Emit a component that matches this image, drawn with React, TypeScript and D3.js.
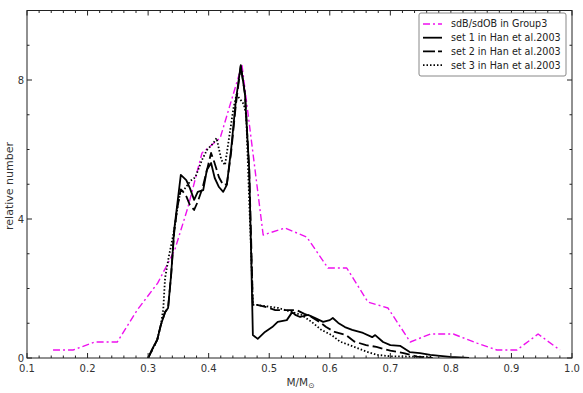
import React from "react";
import * as d3 from "d3";

const group3X = [0.143, 0.176, 0.212, 0.249, 0.282, 0.316, 0.344, 0.366, 0.389, 0.419, 0.455, 0.49, 0.526, 0.562, 0.597, 0.628, 0.663, 0.696, 0.733, 0.766, 0.804, 0.843, 0.876, 0.909, 0.944, 0.98];
const group3Y = [0.23, 0.23, 0.46, 0.46, 1.38, 2.16, 3.11, 4.35, 5.9, 6.33, 8.43, 3.54, 3.74, 3.48, 2.59, 2.59, 1.61, 1.44, 0.46, 0.69, 0.69, 0.43, 0.23, 0.23, 0.69, 0.23];

const set1X = [0.3, 0.306, 0.315, 0.321, 0.328, 0.333, 0.338, 0.343, 0.348, 0.354, 0.363, 0.369, 0.376, 0.382, 0.391, 0.397, 0.404, 0.41, 0.417, 0.424, 0.43, 0.437, 0.445, 0.453, 0.46, 0.467, 0.47, 0.473, 0.481, 0.493, 0.505, 0.514, 0.529, 0.538, 0.543, 0.551, 0.564, 0.576, 0.589, 0.6, 0.605, 0.614, 0.625, 0.637, 0.655, 0.67, 0.675, 0.688, 0.7, 0.716, 0.732, 0.749, 0.766, 0.782, 0.799, 0.83];
const set1Y = [0, 0.23, 0.52, 0.95, 1.32, 1.44, 2.39, 3.68, 4.4, 5.27, 5.12, 4.89, 4.55, 4.78, 4.83, 5.41, 5.61, 5.18, 4.92, 4.78, 4.98, 5.99, 7.42, 8.43, 7.57, 5.41, 3.11, 0.66, 0.55, 0.75, 0.89, 1.04, 1.09, 1.32, 1.24, 1.18, 1.24, 1.15, 1.04, 1.09, 1.15, 1.01, 0.89, 0.81, 0.72, 0.6, 0.66, 0.46, 0.37, 0.35, 0.17, 0.14, 0.09, 0.06, 0.03, 0];

const set2X = [0.3, 0.315, 0.321, 0.328, 0.333, 0.338, 0.343, 0.348, 0.354, 0.362, 0.369, 0.376, 0.382, 0.39, 0.397, 0.404, 0.41, 0.417, 0.424, 0.43, 0.437, 0.445, 0.453, 0.46, 0.467, 0.47, 0.473, 0.48, 0.492, 0.51, 0.53, 0.545, 0.558, 0.569, 0.583, 0.594, 0.608, 0.627, 0.641, 0.66, 0.677, 0.7, 0.722, 0.744, 0.77];
const set2Y = [0, 0.52, 0.95, 1.32, 1.44, 2.39, 3.6, 4.3, 4.85, 4.7, 4.4, 4.26, 4.5, 4.9, 5.4, 5.9, 5.6, 5.2, 4.98, 5.0, 5.9, 7.3, 8.4, 7.6, 5.4, 3.5, 1.53, 1.53, 1.48, 1.38, 1.38, 1.38, 1.27, 1.19, 1.04, 0.89, 0.75, 0.66, 0.47, 0.37, 0.32, 0.21, 0.14, 0.04, 0];

const set3X = [0.3, 0.315, 0.321, 0.325, 0.328, 0.334, 0.341, 0.345, 0.35, 0.353, 0.362, 0.37, 0.378, 0.389, 0.397, 0.408, 0.413, 0.421, 0.427, 0.441, 0.446, 0.454, 0.458, 0.462, 0.467, 0.47, 0.473, 0.479, 0.515, 0.553, 0.57, 0.586, 0.603, 0.617, 0.639, 0.661, 0.678, 0.7, 0.77];
const set3Y = [0, 0.52, 0.95, 1.4, 2.3, 2.9, 3.5, 3.9, 4.5, 4.74, 4.9, 5.1, 5.2, 5.7, 5.98, 6.19, 6.33, 5.7, 5.55, 7.19, 7.58, 7.4, 7.3, 6.99, 4.5, 3.1, 1.53, 1.53, 1.44, 1.24, 1.04, 0.81, 0.66, 0.47, 0.33, 0.18, 0.09, 0.05, 0.03];

const xMajor = [0.1, 0.2, 0.3, 0.4, 0.5, 0.6, 0.7, 0.8, 0.9, 1.0];
const yMajor = [0, 4, 8];
const legendLabels = ["sdB/sdOB in Group3", "set 1 in Han et al.2003", "set 2 in Han et al.2003", "set 3 in Han et al.2003"];

const W = 583, H = 393;
const L = 27, R = 572, T = 10.5, B = 358;
const FONT = "DejaVu Sans, sans-serif";

export default function App() {
  const x = d3.scaleLinear().domain([0.1, 1.0]).range([L, R]);
  const y = d3.scaleLinear().domain([0, 10]).range([B, T]);
  const line = d3.line<[number, number]>().x(d => x(d[0])).y(d => y(d[1]));
  const zip = (a: number[], b: number[]) => a.map((v, i) => [v, b[i]] as [number, number]);

  const series = [
    { pts: zip(group3X, group3Y), stroke: "#ee11ee", dash: "7,3,2,3", w: 1.4 },
    { pts: zip(set1X, set1Y), stroke: "#000", dash: "none", w: 1.8 },
    { pts: zip(set2X, set2Y), stroke: "#000", dash: "10,4", w: 1.8 },
    { pts: zip(set3X, set3Y), stroke: "#000", dash: "1.5,2", w: 1.8 },
  ];

  const xMinor = d3.range(0.1, 1.0001, 0.02).filter(v => !xMajor.some(m => Math.abs(m - v) < 1e-6));
  const yMinor = d3.range(0, 10.001, 1).filter(v => !yMajor.includes(v));

  const tickColor = "#222";
  return (
    <svg width={W} height={H} style={{ position: "absolute", left: 0, top: 0 }} fontFamily={FONT}>
      <rect width={W} height={H} fill="#fff" />
      <defs>
        <clipPath id="plot"><rect x={L} y={T} width={R - L} height={B - T} /></clipPath>
      </defs>
      <g clipPath="url(#plot)">
        {series.map((s, i) => (
          <path key={i} d={line(s.pts) || ""} fill="none" stroke={s.stroke} strokeWidth={s.w}
            strokeDasharray={s.dash} strokeLinejoin="round" />
        ))}
      </g>
      <rect x={L} y={T} width={R - L} height={B - T} fill="none" stroke="#222" strokeWidth={1} />
      {xMajor.map(v => (
        <g key={"xm" + v}>
          <line x1={x(v)} x2={x(v)} y1={B} y2={B - 5} stroke={tickColor} />
          <line x1={x(v)} x2={x(v)} y1={T} y2={T + 5} stroke={tickColor} />
          <text x={x(v)} y={B + 13.5} fontSize={10} textAnchor="middle" fill="#333">{v.toFixed(1)}</text>
        </g>
      ))}
      {xMinor.map(v => (
        <g key={"xn" + v}>
          <line x1={x(v)} x2={x(v)} y1={B} y2={B - 2.5} stroke={tickColor} />
          <line x1={x(v)} x2={x(v)} y1={T} y2={T + 2.5} stroke={tickColor} />
        </g>
      ))}
      {yMajor.map(v => (
        <g key={"ym" + v}>
          <line x1={L} x2={L + 5} y1={y(v)} y2={y(v)} stroke={tickColor} />
          <line x1={R} x2={R - 5} y1={y(v)} y2={y(v)} stroke={tickColor} />
          <text x={L - 3} y={y(v) + 3.5} fontSize={10} textAnchor="end" fill="#333">{v}</text>
        </g>
      ))}
      {yMinor.map(v => (
        <g key={"yn" + v}>
          <line x1={L} x2={L + 2.5} y1={y(v)} y2={y(v)} stroke={tickColor} />
          <line x1={R} x2={R - 2.5} y1={y(v)} y2={y(v)} stroke={tickColor} />
        </g>
      ))}
      <text x={(L + R) / 2 + 1} y={386} fontSize={10.5} textAnchor="middle" fill="#333">
        M/M<tspan fontSize={7.5} dy={2}>⊙</tspan>
      </text>
      <text transform={`translate(13,186) rotate(-90)`} fontSize={11} textAnchor="middle" fill="#333">relative number</text>
      <g>
        <rect x={419} y={13} width={147} height={63} rx={2} fill="#fff" stroke="#888" strokeWidth={1} />
        {legendLabels.map((lab, i) => {
          const cy = 24 + i * 13.7;
          const s = series[i];
          return (
            <g key={lab}>
              <line x1={423} x2={442} y1={cy} y2={cy} stroke={s.stroke} strokeWidth={s.w}
                strokeDasharray={i === 2 ? "12,3" : s.dash} />
              <text x={451} y={cy + 3.4} fontSize={9.6} fill="#222">{lab}</text>
            </g>
          );
        })}
      </g>
    </svg>
  );
}
